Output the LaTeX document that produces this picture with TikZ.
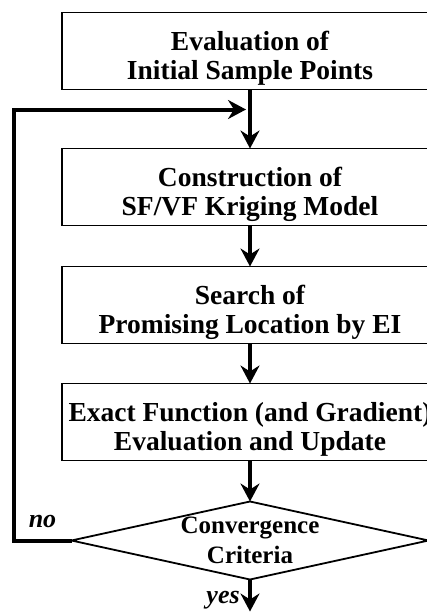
\documentclass[tikz,border=0pt]{standalone}
\usepackage{fontspec}
\setmainfont{Liberation Serif}
\usetikzlibrary{arrows.meta,positioning,shapes.geometric}
\tikzset{%
  >={Stealth[length=18pt,width=19pt,inset=6pt]},
  % Specifications for style of nodes:
      base/.style = {draw=black, line width=1.8pt, outer sep=0pt, text centered, align=center,
                     font=\fontsize{27.5}{29}\selectfont\bfseries},
   process/.style = {base, rectangle, minimum width=376pt, minimum height=77pt,
                     text height=56pt, text depth=0pt},
  decision/.style = {base, diamond, shape aspect=4.58, inner sep=0pt,
                     minimum width=357pt, minimum height=78pt,
                     font=\fontsize{25}{30}\selectfont\bfseries},
      flow/.style = {line width=4pt},
     reply/.style = {font=\fontsize{26}{30}\selectfont\bfseries\itshape},
}
\begin{document}
\begin{tikzpicture}
  \useasboundingbox (0,0) rectangle (427pt,-613pt);
  % Specification of nodes (position, etc.)
    \node (evalInit)     [process] at (250pt,-51pt)      {Evaluation of\\Initial Sample Points};
    \node (buildKriging) [process, below=59pt of evalInit]     {Construction of\\SF/VF Kriging Model};
    \node (searchEI)     [process, below=41pt of buildKriging] {Search of\\Promising Location by EI};
    \node (exactEval)    [process, below=40pt of searchEI]     {Exact Function (and Gradient)\\Evaluation and Update};
    \node (convCheck)    [decision, below=41pt of exactEval]   {Convergence\\Criteria};
    \coordinate (merge)  at ([yshift=-20pt]evalInit.south);
    \coordinate (corner) at ([xshift=-58pt]convCheck.west);
    \coordinate (finish) at ([yshift=-32pt]convCheck.south);
  % Specification of lines between nodes specified above
    \draw[flow,->] (evalInit) -- (buildKriging);
    \draw[flow,->] (buildKriging) -- (searchEI);
    \draw[flow,->] (searchEI) -- (exactEval);
    \draw[flow,->] (exactEval) -- (convCheck);
    \draw[flow,->] (convCheck) -- node[reply, left, xshift=-5pt, yshift=-5pt] {yes} (finish);
    \draw[flow,->,shorten >=4pt] (convCheck.west) -- node[reply, above, yshift=7pt] {no}
       (corner) |- (merge);
\end{tikzpicture}
\end{document}
